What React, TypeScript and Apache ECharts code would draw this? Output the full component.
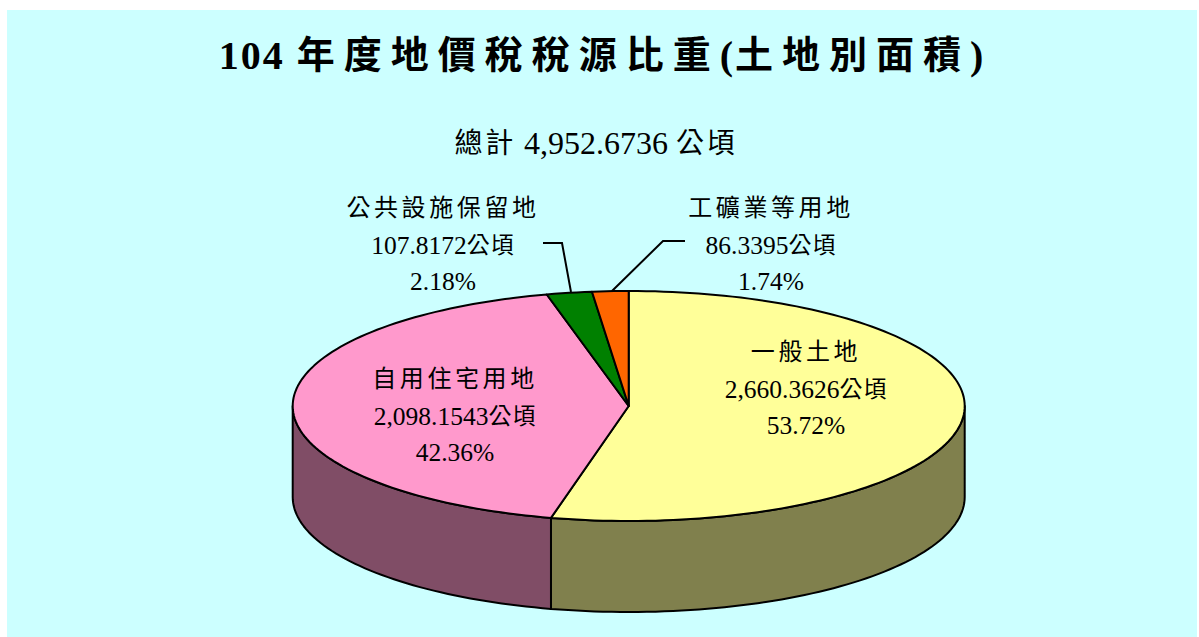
import React, { useEffect, useRef } from "react";
import * as echarts from "echarts";

const categories = ["一般土地", "自用住宅用地", "公共設施保留地", "工礦業等用地"];
const areaValues = [2660.3626, 2098.1543, 107.8172, 86.3395];
const areaLabels = ["2,660.3626公頃", "2,098.1543公頃", "107.8172公頃", "86.3395公頃"];
const shareLabels = ["53.72%", "42.36%", "2.18%", "1.74%"];
const topColors = ["#FFFF99", "#FF99CC", "#008000", "#FF6600"];
const sideColors = ["#80804D", "#804D66", "#004000", "#803300"];
const labelCenters = [[806, 352], [455, 379], [443, 208], [771, 208]];
const titleText = "104 年度地價稅稅源比重(土地別面積)";
const subtitleText = "總計 4,952.6736 公頃";

const FONT = '"Liberation Serif", "Noto Sans CJK TC", serif';
const CX = 628.7, CY = 406, RX = 336, RY = 115, DEPTH = 91;
const total = areaValues.reduce((a, b) => a + b, 0);

function pt(deg: number, dy = 0) {
  const r = (deg * Math.PI) / 180;
  return [CX + RX * Math.sin(r), CY - RY * Math.cos(r) + dy];
}
function arc(a: number, b: number, dy = 0) {
  const n = Math.max(2, Math.ceil(Math.abs(b - a) / 1.5));
  const out: number[][] = [];
  for (let i = 0; i <= n; i++) out.push(pt(a + ((b - a) * i) / n, dy));
  return out;
}

function renderItem(params: any, api: any) {
  const v = api.value(0) as number;
  const before = areaValues.slice(0, params.dataIndex).reduce((a, b) => a + b, 0);
  const a = (before / total) * 360;
  const b = ((before + v) / total) * 360;
  const children: any[] = [];
  const sa = Math.max(a, 90), sb = Math.min(b, 270);
  const stroke = { stroke: "#000", lineWidth: 2, lineJoin: "round" };
  if (sb > sa) {
    children.push({
      type: "polygon",
      shape: { points: [...arc(sa, sb), ...arc(sb, sa, DEPTH)] },
      style: { fill: sideColors[params.dataIndex], ...stroke },
    });
  }
  children.push({
    type: "polygon",
    shape: { points: [[CX, CY], ...arc(a, b)] },
    style: { fill: topColors[params.dataIndex], ...stroke },
  });
  return { type: "group", children };
}

function isCJK(ch: string) {
  return ch.charCodeAt(0) > 0x2e80;
}

// Reference sets CJK glyphs a little smaller than Latin ones, with wide tracking.
function styleTexts(root: HTMLElement) {
  root.querySelectorAll("svg text").forEach((el) => {
    if (el.querySelector("tspan")) return;
    const s = el.textContent || "";
    let cjkSize = 24, cjkGap = 3.6, latinGap = 0;
    if (s === titleText) { cjkSize = 38; cjkGap = 9; latinGap = 2; }
    else if (s === subtitleText) { cjkSize = 28; cjkGap = 2.8; }
    else if (/\d/.test(s)) { cjkSize = 23; cjkGap = 1; }
    const runs: { cjk: boolean; t: string }[] = [];
    for (const ch of Array.from(s)) {
      const c = isCJK(ch);
      const last = runs[runs.length - 1];
      if (last && last.cjk === c) last.t += ch;
      else runs.push({ cjk: c, t: ch });
    }
    el.textContent = "";
    for (const r of runs) {
      const ts = document.createElementNS("http://www.w3.org/2000/svg", "tspan");
      ts.textContent = r.t;
      if (r.cjk) ts.setAttribute("style", `font-size:${cjkSize}px;letter-spacing:${cjkGap}px`);
      else if (latinGap) ts.setAttribute("style", `letter-spacing:${latinGap}px`);
      el.appendChild(ts);
    }
  });
}

export default function App() {
  const ref = useRef<HTMLDivElement>(null);
  useEffect(() => {
    const chart = echarts.init(ref.current!, null, { renderer: "svg" });
    const labelText = (i: number) => ({
      type: "text",
      x: labelCenters[i][0],
      y: labelCenters[i][1] - 18,
      z: 20,
      style: {
        text: [categories[i], areaLabels[i], shareLabels[i]].join("\n"),
        font: `25.5px ${FONT}`,
        fill: "#000",
        textAlign: "center",
        textVerticalAlign: "top",
        lineHeight: 36.5,
      },
    });
    chart.setOption({
      animation: false,
      backgroundColor: "#fff",
      graphic: [
        { type: "rect", z: -10, shape: { x: 7, y: 10, width: 1190, height: 627 }, style: { fill: "#CCFFFF" } },
        {
          type: "text", x: 602, y: 35, z: 20,
          style: { text: titleText, font: `bold 40px ${FONT}`, fill: "#000", textAlign: "center" },
        },
        {
          type: "text", x: 596, y: 127, z: 20,
          style: { text: subtitleText, font: `32px ${FONT}`, fill: "#000", textAlign: "center" },
        },
        { type: "polyline", z: 20, shape: { points: [[543, 243], [562, 243], [571, 292]] }, style: { stroke: "#000", lineWidth: 2, fill: "none" } },
        { type: "polyline", z: 20, shape: { points: [[685, 241], [663, 241], [612, 291]] }, style: { stroke: "#000", lineWidth: 2, fill: "none" } },
        ...categories.map((_, i) => labelText(i)),
      ],
      series: [
        {
          type: "custom",
          coordinateSystem: "none",
          renderItem,
          data: areaValues.map((v) => [v]),
          z: 5,
        },
      ],
    });
    styleTexts(ref.current!);
    chart.on("finished", () => ref.current && styleTexts(ref.current));
    return () => chart.dispose();
  }, []);
  return <div ref={ref} style={{ position: "absolute", left: 0, top: 0, width: 1199, height: 637 }} />;
}
